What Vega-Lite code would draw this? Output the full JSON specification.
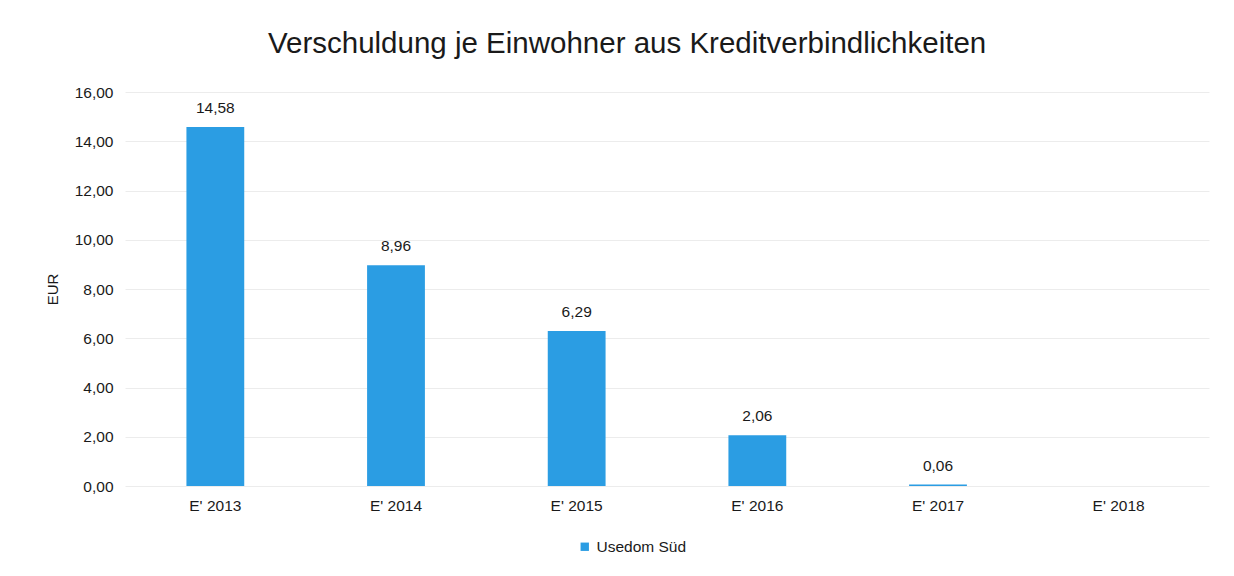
{
  "$schema": "https://vega.github.io/schema/vega-lite/v6.json",
  "width": 1084,
  "height": 394,
  "autosize": {"type": "none"},
  "padding": {"left": 125, "top": 92, "right": 25, "bottom": 90},
  "background": "white",
  "config": {
    "font": "Liberation Sans",
    "view": {"stroke": null},
    "locale": {"number": {"decimal": ",", "thousands": ".", "grouping": [3], "currency": ["", " €"]}}
  },
  "title": {
    "text": "Verschuldung je Einwohner aus Kreditverbindlichkeiten",
    "fontSize": 29.5,
    "fontWeight": "normal",
    "color": "#1a1a1a",
    "anchor": "middle",
    "frame": "bounds",
    "offset": 26
  },
  "data": {
    "values": [
      {"jahr": "E' 2013", "wert": 14.58, "serie": "Usedom Süd"},
      {"jahr": "E' 2014", "wert": 8.96, "serie": "Usedom Süd"},
      {"jahr": "E' 2015", "wert": 6.29, "serie": "Usedom Süd"},
      {"jahr": "E' 2016", "wert": 2.06, "serie": "Usedom Süd"},
      {"jahr": "E' 2017", "wert": 0.06, "serie": "Usedom Süd"},
      {"jahr": "E' 2018", "wert": null, "serie": "Usedom Süd"}
    ]
  },
  "encoding": {
    "x": {
      "field": "jahr",
      "type": "nominal",
      "sort": null,
      "scale": {"domain": ["E' 2013", "E' 2014", "E' 2015", "E' 2016", "E' 2017", "E' 2018"], "paddingInner": 0.68, "paddingOuter": 0.34},
      "axis": {
        "title": null,
        "labelAngle": 0,
        "labelFontSize": 15.5,
        "labelColor": "#1a1a1a",
        "labelPadding": 12,
        "ticks": false,
        "domain": false,
        "grid": false
      }
    },
    "y": {
      "field": "wert",
      "type": "quantitative",
      "scale": {"domain": [0, 16]},
      "axis": {
        "title": "EUR",
        "titleFontSize": 15,
        "titleFontWeight": "normal",
        "titleColor": "#1a1a1a",
        "titlePadding": 14,
        "format": ".2f",
        "values": [0, 2, 4, 6, 8, 10, 12, 14, 16],
        "labelOverlap": false,
        "labelFontSize": 15.5,
        "labelColor": "#1a1a1a",
        "labelPadding": 12,
        "ticks": false,
        "domain": false,
        "gridColor": "#ececec",
        "gridWidth": 1
      }
    }
  },
  "layer": [
    {
      "mark": {"type": "bar", "color": "#2b9de3"},
      "encoding": {
        "color": {
          "field": "serie",
          "type": "nominal",
          "scale": {"range": ["#2b9de3"]},
          "legend": {
            "title": null,
            "orient": "none",
            "legendX": 452,
            "legendY": 447,
            "direction": "horizontal",
            "labelFontSize": 15.5,
            "labelColor": "#1a1a1a",
            "symbolType": "square",
            "symbolSize": 70,
            "symbolStrokeWidth": 0
          }
        }
      }
    },
    {
      "mark": {"type": "text", "dy": -19, "fontSize": 15.5, "color": "#1a1a1a"},
      "encoding": {
        "text": {"field": "wert", "type": "quantitative", "format": ".2f"}
      }
    }
  ]
}
